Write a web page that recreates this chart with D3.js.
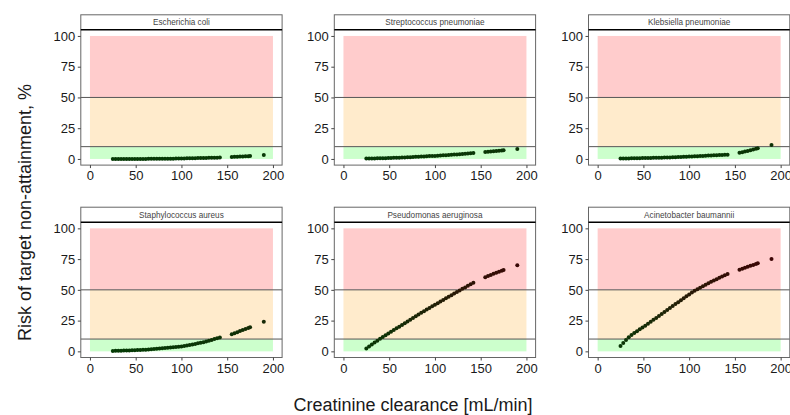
<!DOCTYPE html>
<meta charset="utf-8">
<script src="https://cdn.jsdelivr.net/npm/d3@7"></script>
<style>
body { margin: 0; background: #fff; }
text { font-family: "Liberation Sans", Arial, sans-serif; }
</style>
<body>
<script>

// creatinine clearance values (same for every panel)
var crcl = [25,28,31,34,37,40,43,46,49,52,55,58,61,64,67,70,73,76,79,82,85,88,91,94,97,100,
  103,106,109,112,115,118,121,124,127,130,133,136,139,142,
  155,158,161,164,167,170,173,175,190];

var organisms = ["Escherichia coli", "Streptococcus pneumoniae", "Klebsiella pneumoniae",
  "Staphylococcus aureus", "Pseudomonas aeruginosa", "Acinetobacter baumannii"];

// risk of target non-attainment, %
var ecoli = [0.05,0.05,0.05,0.05,0.05,0.05,0.05,0.05,0.05,0.05,0.05,0.05,0.05,0.1,0.1,0.1,0.1,0.1,0.15,0.15,0.2,0.2,0.25,0.3,0.35,0.4,
  0.45,0.5,0.55,0.6,0.65,0.7,0.75,0.8,0.85,0.9,0.95,1.0,1.05,1.1,
  1.6,1.7,1.8,1.9,2.0,2.1,2.2,2.3,3.2];
var spneu = [0.3,0.35,0.4,0.45,0.5,0.55,0.6,0.65,0.75,0.8,0.9,1.0,1.05,1.15,1.25,1.35,1.45,1.55,1.7,1.8,1.95,2.05,2.2,2.3,2.4,2.5,
  2.65,2.8,2.95,3.1,3.25,3.4,3.55,3.7,3.85,4.0,4.2,4.4,4.6,4.8,
  5.6,5.8,6.0,6.2,6.4,6.6,6.8,7.0,8.0];
var kpneu = [0.3,0.35,0.4,0.45,0.5,0.55,0.6,0.65,0.7,0.75,0.8,0.85,0.9,0.95,1.0,1.05,1.1,1.2,1.25,1.3,1.4,1.5,1.6,1.7,1.8,1.9,
  2.0,2.1,2.2,2.3,2.45,2.6,2.75,2.9,3.0,3.1,3.2,3.3,3.4,3.5,
  5.1,5.5,6.0,6.5,7.0,7.6,8.2,8.7,11.4];
var saur = [0.3,0.4,0.5,0.55,0.6,0.65,0.75,0.85,0.95,1.05,1.15,1.25,1.4,1.55,1.7,1.9,2.05,2.25,2.45,2.7,2.95,3.15,3.4,3.6,3.8,4.0,
  4.4,4.8,5.1,5.6,6.0,6.5,7.0,7.5,8.1,8.7,9.3,10.0,10.6,11.3,
  14.0,14.8,15.6,16.5,17.3,18.1,18.9,19.6,24.0];
var paer = [2.4,4.0,5.6,7.1,8.7,10.2,11.7,13.1,14.5,15.9,17.3,18.7,20.1,21.5,22.9,24.3,25.7,27.1,28.5,29.9,31.3,32.6,34.0,35.3,36.6,37.9,
  39.2,40.5,41.8,43.1,44.4,45.7,47.0,48.3,49.5,50.8,52.0,53.3,54.5,55.8,
  60.3,61.2,62.1,63.0,63.9,64.8,65.6,66.1,70.1];
var abau = [4.3,6.8,9.3,11.5,13.3,14.9,16.4,17.9,19.4,20.9,22.4,24.0,25.6,27.2,28.8,30.4,32.0,33.6,35.2,36.8,38.4,40.0,41.6,43.2,44.8,46.3,
  47.8,49.2,50.5,51.7,52.9,54.1,55.3,56.5,57.6,58.7,59.8,60.8,61.8,62.8,
  66.3,67.1,67.9,68.7,69.5,70.3,71.1,71.6,75.0];

var series = [ecoli, spneu, kpneu, saur, paer, abau];

// risk bands: lower, upper, fill
var bandLo = [0, 10, 50];
var bandHi = [10, 50, 100];
var bandFill = ["#ccffcc", "#ffebcc", "#ffcccc"];
var refLines = [10, 50];

var xTicks = [0, 50, 100, 150, 200];
var yTicks = [0, 25, 50, 75, 100];

var width = 790, height = 415;
var colX = [80.8, 334.3, 588.5], panelW = 201.3;
var rowY = [29.8, 222.2], panelH = 135.3, stripH = 15;

var svg = d3.select("body").append("svg")
    .attr("width", width)
    .attr("height", height);

var color = d3.scaleLinear()
    .domain([0, 75])
    .range(["#063a06", "#3c0505"])
    .clamp(true);

organisms.forEach(function(name, i) {
  var px = colX[i % 3], py = rowY[Math.floor(i / 3)];
  var x = d3.scaleLinear().domain([-10, 210]).range([px, px + panelW]);
  var y = d3.scaleLinear().domain([-5, 105]).range([py + panelH, py]);
  var g = svg.append("g");

  // bands
  g.selectAll("rect.band")
    .data(bandLo)
    .enter().append("rect")
    .attr("x", x(0))
    .attr("width", x(200) - x(0))
    .attr("y", function(d, j) { return y(bandHi[j]); })
    .attr("height", function(d, j) { return y(d) - y(bandHi[j]); })
    .attr("fill", function(d, j) { return bandFill[j]; });

  // reference lines
  g.selectAll("line.ref")
    .data(refLines)
    .enter().append("line")
    .attr("x1", px).attr("x2", px + panelW)
    .attr("y1", function(d) { return y(d); })
    .attr("y2", function(d) { return y(d); })
    .attr("stroke", "#555")
    .attr("stroke-width", 1);

  // points
  var data = crcl.map(function(c, k) { return [c, series[i][k]]; });
  g.selectAll("circle.pt")
    .data(data)
    .enter().append("circle")
    .attr("cx", function(d) { return x(d[0]); })
    .attr("cy", function(d) { return y(d[1]); })
    .attr("r", 2)
    .attr("fill", function(d) { return color(d[1]); });

  // panel border
  g.append("rect")
    .attr("x", px).attr("y", py - stripH)
    .attr("width", panelW).attr("height", panelH + stripH)
    .attr("fill", "none")
    .attr("stroke", "#666")
    .attr("stroke-width", 1);

  // strip
  g.append("line")
    .attr("x1", px).attr("x2", px + panelW)
    .attr("y1", py).attr("y2", py)
    .attr("stroke", "#000")
    .attr("stroke-width", 1.5);
  g.append("text")
    .attr("x", px + panelW / 2)
    .attr("y", py - stripH / 2)
    .attr("dy", "0.36em")
    .attr("text-anchor", "middle")
    .style("font-size", "8.2px")
    .attr("fill", "#444")
    .text(name);

  // axes
  var xAxis = g.append("g")
    .attr("transform", "translate(0," + (py + panelH) + ")")
    .call(d3.axisBottom(x).tickValues(xTicks).tickSize(3).tickPadding(3));
  var yAxis = g.append("g")
    .attr("transform", "translate(" + px + ",0)")
    .call(d3.axisLeft(y).tickValues(yTicks).tickSize(3).tickPadding(2.5));
  [xAxis, yAxis].forEach(function(a) {
    a.select(".domain").remove();
    a.selectAll(".tick line").attr("stroke", "#444");
    a.selectAll(".tick text")
      .style("font-size", "13px")
      .style("font-family", "'Liberation Sans', Arial, sans-serif")
      .attr("fill", "#1a1a1a");
  });
});

// axis titles
svg.append("text")
  .attr("transform", "translate(31,212.5) rotate(-90)")
  .attr("text-anchor", "middle")
  .style("font-size", "18px")
  .attr("fill", "#1a1a1a")
  .text("Risk of target non-attainment, %");

svg.append("text")
  .attr("x", 413)
  .attr("y", 411)
  .attr("text-anchor", "middle")
  .style("font-size", "18px")
  .attr("fill", "#1a1a1a")
  .text("Creatinine clearance [mL/min]");

</script>
</body>
</html>
